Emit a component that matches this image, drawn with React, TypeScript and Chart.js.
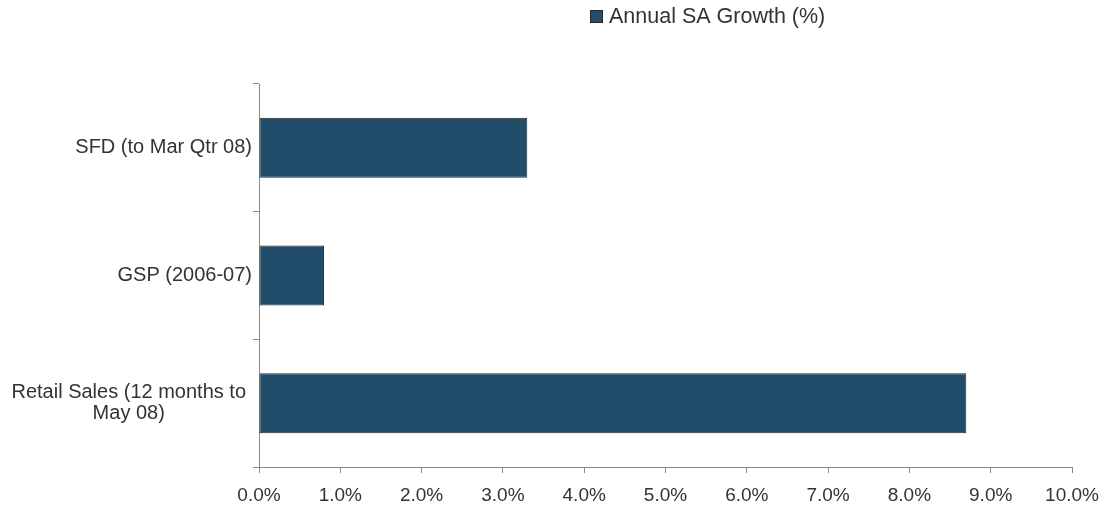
import React, { useEffect, useRef } from "react";
import { Chart, registerables } from "chart.js";

Chart.register(...registerables);

const categories: (string | string[])[] = [
  "SFD (to Mar Qtr 08)",
  "GSP (2006-07)",
  ["Retail Sales (12 months to", "May 08)"],
];
const seriesLabel = "Annual SA Growth (%)";
const growthValues = [3.3, 0.8, 8.7];
const xTickMin = 0;
const xTickMax = 10;
const xTickStep = 1;

const BAR_COLOR = "#214C6A";
const BAR_BORDER = "#262a2e";
const TEXT_COLOR = "#333333";
const AXIS_COLOR = "#8a8a8a";
const FONT = '"Liberation Sans", Arial, Helvetica, sans-serif';

const labelPlugin = {
  id: "customLabels",
  afterDraw(chart: any) {
    const ctx = chart.ctx;
    const yScale = chart.scales.y;
    ctx.save();
    // category labels
    ctx.font = `20px ${FONT}`;
    ctx.fillStyle = TEXT_COLOR;
    ctx.textBaseline = "middle";
    const right = yScale.right - 7;
    const lh = 21.5;
    (chart.data.labels as (string | string[])[]).forEach((lab, i) => {
      const y = yScale.getPixelForValue(i);
      const lines = Array.isArray(lab) ? lab : [lab];
      const widest = Math.max(...lines.map((l) => ctx.measureText(l).width));
      lines.forEach((ln, j) => {
        const ly = y + (j - (lines.length - 1) / 2) * lh;
        if (lines.length > 1) {
          ctx.textAlign = "center";
          ctx.fillText(ln, right - 6 - widest / 2, ly);
        } else {
          ctx.textAlign = "right";
          ctx.fillText(ln, right, ly);
        }
      });
    });
    // legend
    const ds = chart.data.datasets[0];
    const bx = 590;
    const by = 10;
    ctx.fillStyle = ds.backgroundColor;
    ctx.fillRect(bx, by, 13, 13);
    ctx.strokeStyle = ds.borderColor;
    ctx.lineWidth = 1;
    ctx.strokeRect(bx + 0.5, by + 0.5, 12, 12);
    ctx.font = `21.5px ${FONT}`;
    ctx.fillStyle = TEXT_COLOR;
    ctx.textAlign = "left";
    ctx.textBaseline = "middle";
    ctx.fillText(ds.label, bx + 19, by + 7);
    ctx.restore();
  },
};

export default function App() {
  const ref = useRef<HTMLCanvasElement | null>(null);
  useEffect(() => {
    if (!ref.current) return;
    const chart = new Chart(ref.current, {
      type: "bar",
      data: {
        labels: categories as any,
        datasets: [
          {
            label: seriesLabel,
            data: growthValues,
            backgroundColor: BAR_COLOR,
            borderColor: BAR_BORDER,
            borderWidth: 1,
            borderSkipped: false,
            categoryPercentage: 1,
            barPercentage: 0.47,
          },
        ],
      },
      options: {
        indexAxis: "y",
        responsive: false,
        animation: false,
        layout: { padding: { top: 84, right: 34, left: 0, bottom: 0 } },
        plugins: {
          legend: { display: false },
          tooltip: { enabled: false },
        },
        scales: {
          x: {
            type: "linear",
            min: xTickMin,
            max: xTickMax,
            ticks: {
              stepSize: xTickStep,
              callback: (v: any) => Number(v).toFixed(1) + "%",
              color: TEXT_COLOR,
              font: { family: FONT, size: 19, lineHeight: "34px" },
              padding: 6,
              maxRotation: 0,
            },
            grid: {
              drawOnChartArea: false,
              color: AXIS_COLOR,
              tickLength: 6,
            },
            border: { color: AXIS_COLOR, width: 1 },
            afterFit: (s: any) => {
              s.height = 39;
            },
          },
          y: {
            type: "category",
            ticks: { display: false },
            grid: {
              drawOnChartArea: false,
              color: AXIS_COLOR,
              tickLength: 6,
              offset: true,
            },
            border: { color: AXIS_COLOR, width: 1 },
            afterFit: (s: any) => {
              s.width = 259;
            },
          },
        },
      } as any,
      plugins: [labelPlugin],
    });
    return () => chart.destroy();
  }, []);
  return (
    <div style={{ position: "fixed", left: 0, top: 0, width: 1106, height: 506, background: "#fff" }}>
      <canvas ref={ref} width={1106} height={506} style={{ display: "block" }} />
    </div>
  );
}
